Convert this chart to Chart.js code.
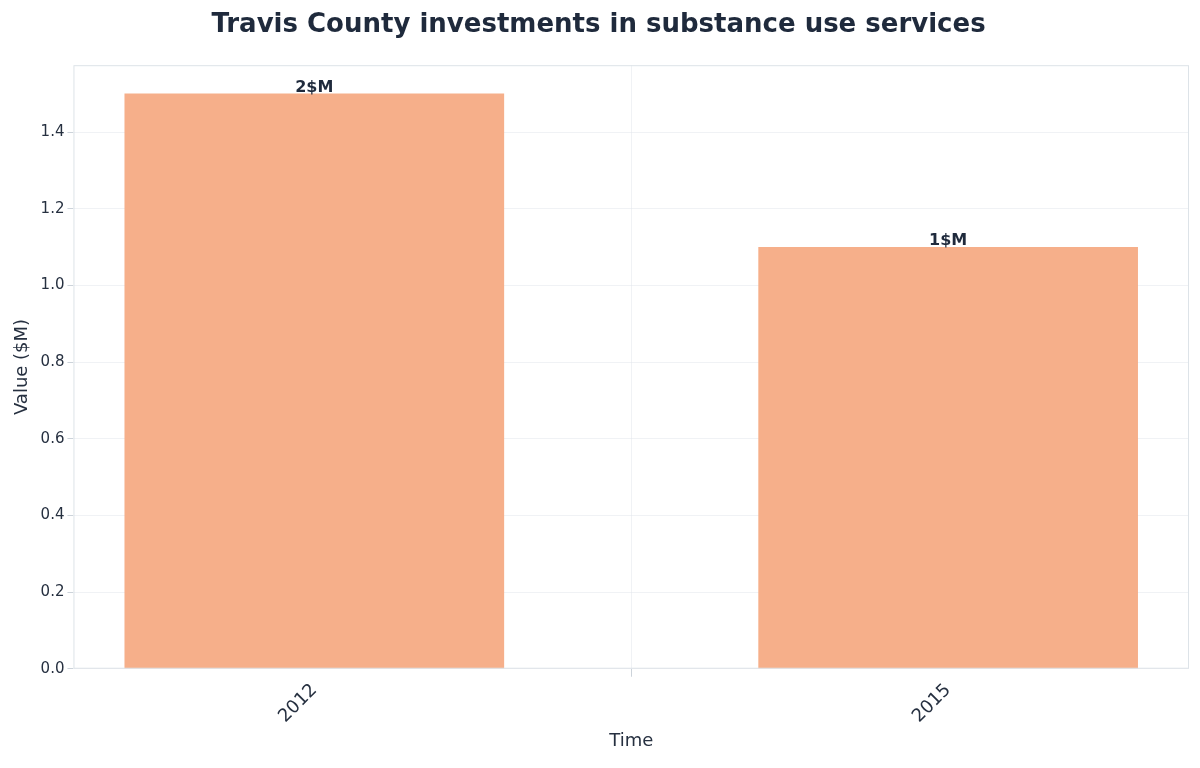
<!DOCTYPE html>
<html>
<head>
<meta charset="utf-8">
<script src="https://cdn.jsdelivr.net/npm/chart.js@4/dist/chart.umd.min.js"></script>
<style>
  html, body { margin: 0; padding: 0; background: #fff; }
  #wrap { width: 1200px; height: 768px; }
</style>
</head>
<body>
<div id="wrap"><canvas id="c"></canvas></div>
<script>
const years = [2012, 2015];
const values = [1.5, 1.1];
const valueLabels = ["2$M", "1$M"];

Chart.defaults.font.family = "'DejaVu Sans', sans-serif";
Chart.defaults.color = "#263040";

// value labels above bars + frame around the plot area
const extras = {
  id: "extras",
  afterDatasetsDraw(chart) {
    const ctx = chart.ctx;
    const a = chart.chartArea;
    ctx.save();
    ctx.strokeStyle = "#dde3e8";
    ctx.lineWidth = 1;
    ctx.strokeRect(a.left + 0.5, a.top + 0.5, a.width - 1, a.height - 1);
    ctx.font = "bold 16px 'DejaVu Sans'";
    ctx.fillStyle = "#1f2a3c";
    ctx.textAlign = "center";
    ctx.textBaseline = "bottom";
    chart.getDatasetMeta(0).data.forEach((bar, i) => {
      ctx.fillText(valueLabels[i], bar.x, bar.y + 2);
    });
    ctx.restore();
  }
};

new Chart(document.getElementById("c"), {
  type: "bar",
  data: {
    datasets: [{
      data: years.map((y, i) => ({ x: y, y: values[i] })),
      backgroundColor: "#f6af8a",
      barThickness: 379
    }]
  },
  options: {
    responsive: true,
    maintainAspectRatio: false,
    animation: false,
    layout: { padding: { left: 8, right: 11, top: 4, bottom: 12 } },
    plugins: {
      legend: { display: false },
      tooltip: { enabled: false },
      title: {
        display: true,
        text: "Travis County investments in substance use services",
        font: { size: 26, weight: "bold" },
        color: "#1f2a3c",
        padding: { top: 6, bottom: 24 }
      }
    },
    scales: {
      x: {
        type: "linear",
        min: 2010.86,
        max: 2016.14,
        offset: false,
        z: 1,
        afterBuildTicks(s) { s.ticks = years.map(v => ({ value: v })); },
        grid: { color: "rgba(225,230,235,0.5)", tickLength: 8, tickColor: "#ccd3da" },
        border: { display: false },
        ticks: { maxRotation: 45, minRotation: 45, font: { size: 18 }, color: "#263040", callback: v => String(v) },
        title: { display: true, text: "Time", font: { size: 18 }, color: "#263040", padding: { top: 0 } }
      },
      y: {
        z: 1,
        min: 0,
        max: 1.575,
        afterBuildTicks(s) {
          s.ticks = s.ticks.filter(t => Math.abs(t.value * 5 - Math.round(t.value * 5)) < 1e-6);
        },
        ticks: { stepSize: 0.2, font: { size: 15 }, color: "#263040", callback: v => v.toFixed(1) },
        grid: { color: "rgba(225,230,235,0.5)", tickLength: 6, tickColor: "#ccd3da" },
        border: { display: false },
        title: { display: true, text: "Value ($M)", font: { size: 18 }, color: "#263040" }
      }
    }
  },
  plugins: [extras]
});
</script>
</body>
</html>
